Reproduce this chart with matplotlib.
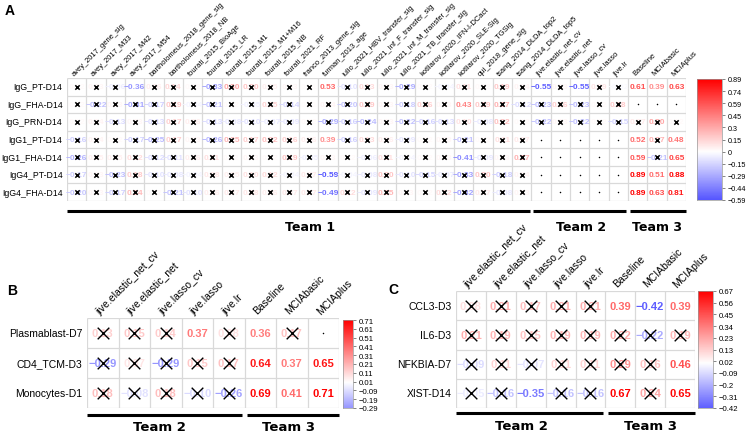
import numpy as np
import matplotlib
matplotlib.use('Agg')
import matplotlib.pyplot as plt
from matplotlib.colors import LinearSegmentedColormap, Normalize

nan = np.nan

# ---- panel A ----
a_rows = ['IgG_PT-D14', 'IgG_FHA-D14', 'IgG_PRN-D14', 'IgG1_PT-D14',
          'IgG1_FHA-D14', 'IgG4_PT-D14', 'IgG4_FHA-D14']
a_cols = ['avey_2017_gene_sig', 'avey_2017_M33', 'avey_2017_M42', 'avey_2017_M54',
          'bartholomeus_2018_gene_sig', 'bartholomeus_2018_NB', 'fourati_2015_BioAge',
          'fourati_2015_LR', 'fourati_2015_M1', 'fourati_2015_M1+M16', 'fourati_2015_NB',
          'fourati_2021_RF', 'franco_2013_gene_sig', 'furman_2013_age',
          'iulio_2021_HBV_transfer_sig', 'iulio_2021_Inf_F_transfer_sig',
          'iulio_2021_Inf_M_transfer_sig', 'iulio_2021_TB_transfer_sig',
          'kotliarov_2020_IFN-I-DCact', 'kotliarov_2020_SLE-Sig', 'kotliarov_2020_TGSig',
          'qui_2018_gene_sig', 'tsang_2014_DLDA_top2', 'tsang_2014_DLDA_top5',
          'jive.elastic_net_cv', 'jive.elastic_net', 'jive.lasso_cv', 'jive.lasso', 'jive.lr',
          'Baseline', 'MCIAbasic', 'MCIAplus']
a_vals = [
    [0.02, 0.03, -0.06, -0.36, 0.06, 0.14, 0.02, -0.33, 0.30, 0.20, 0.05, 0.03, 0.01, 0.53, -0.10, 0.13,
     0.03, -0.29, 0.02, -0.04, 0.11, 0.02, 0.19, 0.04, -0.55, 0.03, -0.55, 0.09, -0.02, 0.61, 0.39, 0.63],
    [0.02, -0.22, 0.03, -0.31, -0.17, 0.19, -0.04, -0.21, 0.02, -0.05, 0.15, -0.14, 0.01, 0.04, -0.20, 0.19,
     0.03, -0.18, 0.16, 0.03, 0.43, 0.19, 0.27, -0.12, -0.23, 0.16, -0.23, 0.02, 0.18, nan, nan, nan],
    [0.02, 0.04, -0.13, 0.03, -0.13, 0.17, 0.06, -0.13, -0.08, -0.10, -0.07, -0.09, 0.02, -0.29, -0.16, -0.24,
     0.03, -0.22, -0.16, -0.13, 0.10, -0.08, 0.22, 0.02, -0.22, 0.03, -0.22, 0.02, -0.15, 0.07, 0.30, 0.02],
    [-0.16, 0.04, 0.02, -0.17, -0.25, 0.17, 0.03, -0.26, 0.25, 0.17, 0.22, 0.16, 0.06, 0.39, -0.16, 0.13,
     0.06, -0.09, 0.02, 0.03, -0.21, 0.02, 0.11, 0.07, nan, nan, nan, nan, nan, 0.52, 0.27, 0.48],
    [-0.26, 0.05, 0.05, 0.12, -0.12, -0.11, 0.06, 0.11, 0.02, 0.03, 0.02, 0.19, -0.05, 0.03, 0.02, -0.06,
     0.11, -0.04, 0.02, 0.03, -0.41, -0.09, 0.03, 0.27, nan, nan, nan, nan, nan, 0.59, -0.21, 0.65],
    [-0.17, 0.03, -0.23, 0.18, -0.10, -0.08, -0.04, 0.08, 0.05, 0.10, 0.12, -0.04, 0.07, -0.59, -0.04, -0.08,
     0.20, -0.10, -0.15, -0.07, -0.33, 0.20, -0.18, 0.04, nan, nan, nan, nan, nan, 0.89, 0.51, 0.88],
    [-0.20, 0.03, -0.17, 0.24, 0.02, -0.21, -0.10, 0.06, 0.07, 0.08, 0.06, 0.07, 0.07, -0.49, 0.12, -0.09,
     0.25, 0.03, 0.02, 0.12, -0.32, 0.07, -0.08, 0.03, nan, nan, nan, nan, nan, 0.89, 0.63, 0.81],
]
# o = significant, x = crossed out, . = missing
a_marks = [
    'xxxoxxxxxxxxxoxxxxxxxxxxoxoxxooo',
    'xxxxxxxxxxxxxxxxxxxxoxxxxxxxx...',
    'xxxxxxxxxxxxxxxxxxxxxxxxxxxxxxxx',
    'xxxxxxxxxxxxxoxxxxxxxxxx.....oxo',
    'xxxxxxxxxxxxxxxxxxxxoxxx.....oxo',
    'xxxxxxxxxxxxxoxxxxxxxxxx.....ooo',
    'xxxxxxxxxxxxxoxxxxxxxxxx.....ooo',
]
a_teams = [('Team 1', 24), ('Team 2', 5), ('Team 3', 3)]

# ---- panel B ----
bc_cols = ['jive.elastic_net_cv', 'jive.elastic_net', 'jive.lasso_cv', 'jive.lasso', 'jive.lr',
           'Baseline', 'MCIAbasic', 'MCIAplus']
b_rows = ['Plasmablast-D7', 'CD4_TCM-D3', 'Monocytes-D1']
b_vals = [
    [0.13, 0.15, 0.14, 0.37, 0.08, 0.36, 0.17, nan],
    [-0.29, 0.07, -0.29, 0.15, 0.17, 0.64, 0.37, 0.65],
    [0.18, -0.08, 0.18, -0.10, -0.26, 0.69, 0.41, 0.71],
]
b_marks = ['xxxoxox.', 'xxxxxooo', 'xxxxxooo']

# ---- panel C ----
c_rows = ['CCL3-D3', 'IL6-D3', 'NFKBIA-D7', 'XIST-D14']
c_vals = [
    [0.08, 0.21, 0.17, 0.21, 0.21, 0.39, -0.42, 0.39],
    [0.21, 0.19, 0.15, 0.19, 0.19, 0.22, -0.22, 0.19],
    [-0.09, 0.11, -0.07, 0.11, 0.11, 0.29, 0.16, 0.46],
    [-0.05, -0.16, -0.35, -0.16, -0.16, 0.67, 0.24, 0.65],
]
c_marks = ['xxxxxooo', 'xxxxxxxx', 'xxxxxxxo', 'xxoxxoxo']
bc_teams = [('Team 2', 5), ('Team 3', 3)]

W, H = 748, 435
fig = plt.figure(figsize=(W / 100, H / 100), dpi=100)
plt.rcParams['font.family'] = ['Liberation Sans', 'DejaVu Sans']

cmap = LinearSegmentedColormap.from_list('bwr_corr', ['#0000FF', '#FFFFFF', '#FF0000'])
GRID = '#D9D9D9'


def px_axes(x0, y0, x1, y1):
    # rectangle in pixel coords (top-left origin) -> axes
    return fig.add_axes([x0 / W, 1 - y1 / H, (x1 - x0) / W, (y1 - y0) / H])


def fmt(v, nd=2):
    s = f'{v:.{nd}f}'
    return s.replace('-', '\u2212')


def cb_fmt(t):
    r = round(t, 2)
    if abs(r) < 0.005:
        r = 0.0
    return f'{r:g}'.replace('-', '\u2212')


def draw_panel(grid_px, cbar_px, rows, cols, vals, marks, teams, fs_row, fs_col, fs_num, fs_cb,
               xsize, xlw, line_off, lab_off, team_fs, team_shift=None):
    vals = np.array(vals, dtype=float)
    nr, nc = vals.shape
    lim = np.nanmax(np.abs(vals))
    norm = Normalize(-lim, lim)

    ax = px_axes(*grid_px)
    ax.set_xlim(0, nc)
    ax.set_ylim(nr, 0)
    ax.axis('off')
    ax.hlines(np.arange(nr + 1), 0, nc, color=GRID, lw=0.9, zorder=1)
    ax.vlines(np.arange(nc + 1), 0, nr, color=GRID, lw=0.9, zorder=1)

    cx, cy, nx, ny = [], [], [], []
    for i in range(nr):
        for j in range(nc):
            m = marks[i][j]
            if m == '.':
                nx.append(j + 0.5)
                ny.append(i + 0.5)
                continue
            v = vals[i, j]
            ax.text(j + 0.5, i + 0.5, fmt(v), ha='center', va='center', fontsize=fs_num,
                    fontweight='bold', color=cmap(norm(v)), zorder=2)
            if m == 'x':
                cx.append(j + 0.5)
                cy.append(i + 0.5)
    ax.scatter(cx, cy, marker='x', s=xsize, color='black', linewidths=xlw, zorder=3)
    ax.scatter(nx, ny, marker='o', s=1.2, color='black', linewidths=0, zorder=3)

    cw = (grid_px[2] - grid_px[0]) / nc
    for i, r in enumerate(rows):
        ax.text(-4.5 / cw, i + 0.5, r, ha='right', va='center', fontsize=fs_row)
    for j, c in enumerate(cols):
        ax.text(j + 0.45, -0.08, c, rotation=45, rotation_mode='anchor', ha='left', va='bottom',
                fontsize=fs_col)

    start = 0
    for k, (name, n) in enumerate(teams):
        x0 = start + 0.08 if start else start
        x1 = start + n - 0.08 if start + n < nc else start + n
        ax.plot([x0, x1], [nr + line_off] * 2, color='black', lw=2.2, clip_on=False,
                solid_capstyle='butt')
        shift = team_shift[k] if team_shift else 0
        ax.text(start + n / 2 + shift, nr + lab_off, name, ha='center', va='center',
                fontsize=team_fs, fontweight='bold', family='DejaVu Sans')
        start += n

    # colour legend
    vmin, vmax = np.nanmin(vals), np.nanmax(vals)
    cax = px_axes(*cbar_px)
    grad = np.linspace(vmin, vmax, 256)[:, None]
    cax.imshow(grad, aspect='auto', cmap=cmap, norm=norm, origin='lower',
               extent=[0, 1, vmin, vmax])
    cax.set_xticks([])
    ticks = np.linspace(vmin, vmax, 11)
    cax.yaxis.tick_right()
    cax.set_yticks(ticks)
    cax.set_yticklabels([cb_fmt(t) for t in ticks], fontsize=fs_cb)
    cax.tick_params(axis='y', length=2.5, width=0.5, pad=1.5, color='#555555')
    for s in cax.spines.values():
        s.set_color('#999999')
        s.set_linewidth(0.5)
    return ax


draw_panel((67, 79, 686, 202), (697, 80, 722, 201), a_rows, a_cols, a_vals, a_marks, a_teams,
           fs_row=6.3, fs_col=5.4, fs_num=6.0, fs_cb=5.2, xsize=10, xlw=1.1, line_off=0.57,
           lab_off=1.45, team_fs=9, team_shift=[0.55, 0.05, 0])
draw_panel((87, 319, 339, 409), (343, 321, 353, 409), b_rows, bc_cols, b_vals, b_marks, bc_teams,
           fs_row=7.5, fs_col=7.5, fs_num=8.0, fs_cb=5.6, xsize=70, xlw=1.0, line_off=0.23,
           lab_off=0.63, team_fs=9.5, team_shift=[-0.2, -0.1])
draw_panel((456, 292, 695, 409), (698, 292, 713, 409), c_rows, bc_cols, c_vals, c_marks, bc_teams,
           fs_row=7.5, fs_col=7.5, fs_num=8.0, fs_cb=5.6, xsize=70, xlw=1.0, line_off=0.16,
           lab_off=0.6, team_fs=9.5, team_shift=[-0.3, 0.0])

fig.text(5 / W, 1 - 11 / H, 'A', fontsize=10, fontweight='bold', va='center', ha='left')
fig.text(7 / W, 1 - 291 / H, 'B', fontsize=10, fontweight='bold', va='center', ha='left')
fig.text(388 / W, 1 - 290 / H, 'C', fontsize=10, fontweight='bold', va='center', ha='left')

fig.savefig('out.png', dpi=100)
